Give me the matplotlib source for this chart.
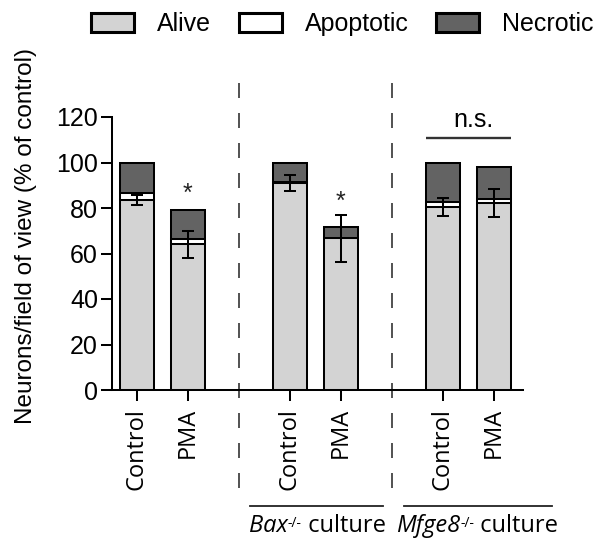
import matplotlib
matplotlib.use('Agg')
import matplotlib.pyplot as plt
from matplotlib.patches import Patch
from matplotlib.lines import Line2D
import numpy as np

# neurons per field of view, % of control, one entry per bar
conditions = ['Control', 'PMA', 'Control', 'PMA', 'Control', 'PMA']
positions = [0, 1, 3, 4, 6, 7]
alive = [83.5, 64.0, 91.0, 66.7, 80.5, 82.2]
apoptotic = [3.2, 2.4, 0.4, 0.0, 2.0, 1.6]
necrotic = [13.3, 12.7, 8.6, 4.8, 17.5, 14.4]
alive_err = [2.0, 6.0, 3.5, 10.3, 3.9, 6.3]

# significance marks
star_pos = [1, 4]
star_y = [83.3, 79.5]
ns_span = [6, 7]
ns_y = 110.6

genotypes = ['Bax', 'Mfge8']
divider_pos = [2, 5]

c_alive = '#d3d3d3'
c_apop = '#ffffff'
c_necro = '#636363'

W, H = 605, 540
fig = plt.figure(figsize=(W / 100, H / 100), dpi=100)
ax = fig.add_axes([112 / W, 1 - 390 / H, 411 / W, 273 / H])

lw = 1.45
bw = 0.667
alive = np.array(alive)
apoptotic = np.array(apoptotic)
necrotic = np.array(necrotic)

ax.bar(positions, alive, bw, color=c_alive, edgecolor='black', linewidth=lw, zorder=2)
ax.bar(positions, apoptotic, bw, bottom=alive, color=c_apop, edgecolor='black', linewidth=lw, zorder=2)
ax.bar(positions, necrotic, bw, bottom=alive + apoptotic, color=c_necro, edgecolor='black', linewidth=lw, zorder=2)
ax.errorbar(positions, alive, yerr=alive_err, fmt='none', ecolor='black', elinewidth=lw,
            capsize=4.5, capthick=lw, zorder=3)

for p, y in zip(star_pos, star_y):
    ax.text(p, y, '*', ha='center', va='baseline', fontsize=18, family='Liberation Sans', color='#222222')

ax.plot([ns_span[0] - bw / 2, ns_span[1] + bw / 2], [ns_y, ns_y], color='#333333', lw=1.7,
        clip_on=False, solid_capstyle='butt')
ax.text(6.6, 115.7, 'n.s.', ha='center', va='baseline', fontsize=18, family='Liberation Sans')

ax.set_xlim(-0.49, 7.57)
ax.set_ylim(0, 120)
ax.set_yticks(np.arange(0, 121, 20))
ax.set_xticks(positions)
ax.set_xticklabels(conditions, rotation=90, family='Open Sans', fontsize=17)
for t in ax.get_yticklabels():
    t.set_family('Liberation Sans')
    t.set_fontsize(18)
ax.tick_params(axis='both', length=8, width=lw, color='black')
ax.tick_params(axis='y', pad=2)
ax.tick_params(axis='x', pad=5)
for s in ['top', 'right']:
    ax.spines[s].set_visible(False)
for s in ['left', 'bottom']:
    ax.spines[s].set_linewidth(lw)

# dashed dividers between cultures
for p in divider_pos:
    ax.add_line(Line2D([p, p], [-43, 135], color='#333333', lw=1.2, dashes=(9, 9),
                       clip_on=False, zorder=1))

# group underlines and names: italic gene, small "-/-" superscript, then "culture"
fig.add_artist(Line2D([250 / W, 383 / W], [1 - 506 / H] * 2, color='#222222', lw=1.3))
fig.add_artist(Line2D([404 / W, 552 / W], [1 - 506 / H] * 2, color='#222222', lw=1.3))
for gene, x0 in zip(genotypes, [249, 396]):
    t1 = fig.text(x0 / W, 8 / H, gene, ha='left', va='baseline', fontsize=17,
                  family='Open Sans', style='italic')
    t2 = ax.annotate('-/-', xy=(1.0, 0.93), xycoords=t1, ha='left', va='top',
                     fontsize=10, family='Open Sans', annotation_clip=False)
    ax.annotate(' culture', xy=(1.0, 0.0), xycoords=(t2, t1), ha='left', va='bottom',
                fontsize=17, family='Open Sans', annotation_clip=False)

fig.text(26 / W, 1 - 48 / H, 'Neurons/field of view (% of control)', rotation=90,
         ha='center', va='top', fontsize=17.5, family='Liberation Sans')

handles = [Patch(facecolor=c_alive, edgecolor='black', linewidth=2.2),
           Patch(facecolor=c_apop, edgecolor='black', linewidth=2.2),
           Patch(facecolor=c_necro, edgecolor='black', linewidth=2.2)]
fig.legend(handles, ['Alive', 'Apoptotic', 'Necrotic'], loc='center left',
           bbox_to_anchor=(91 / W, 1 - 24 / H), ncol=3, frameon=False, borderpad=0,
           borderaxespad=0, handlelength=1.72, handleheight=0.8, handletextpad=0.92,
           columnspacing=1.1, prop={'family': 'Liberation Sans', 'size': 18})

fig.savefig('out.png', dpi=100)
